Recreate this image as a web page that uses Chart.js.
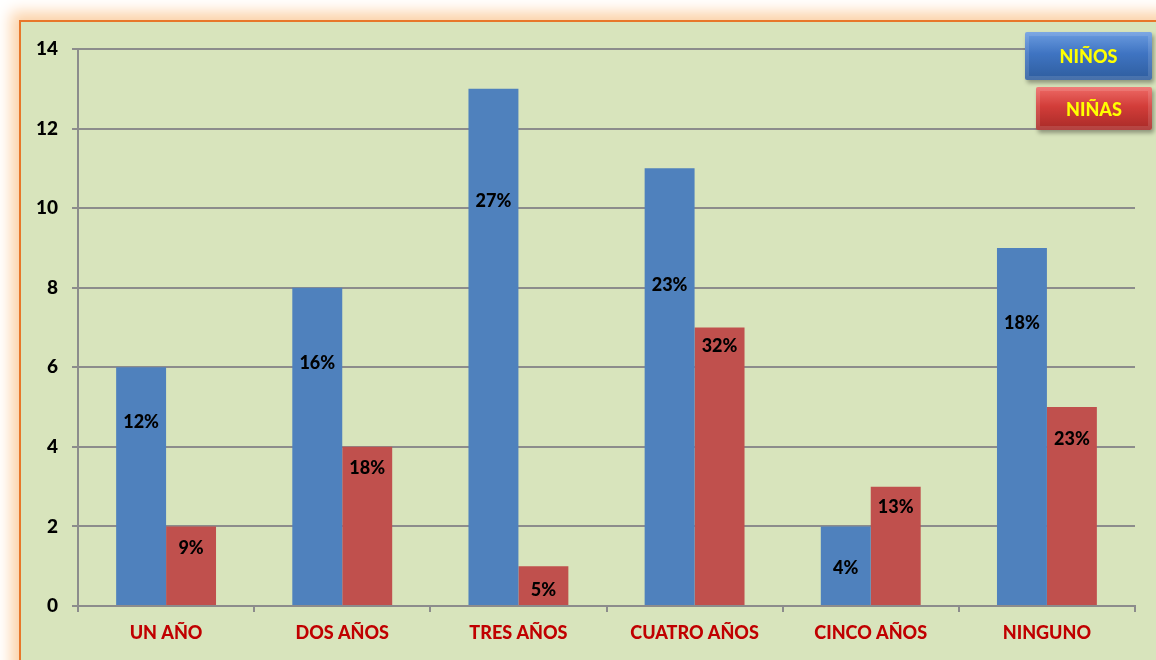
<!DOCTYPE html>
<html>
<head>
<meta charset="utf-8">
<script src="https://cdn.jsdelivr.net/npm/chart.js@4"></script>
<style>
  body { margin: 0; background: #fff; width: 1156px; height: 660px; overflow: hidden; position: relative; font-family: Lato, "Open Sans", sans-serif; }
  #frame {
    position: absolute; left: 19px; top: 20px; width: 1200px; height: 700px;
    background: #d8e4bc; border: 2px solid #e8772a;
    box-shadow: 0 0 14px 8px #fcd2a8;
  }
  #wrap { position: absolute; left: 0; top: 0; width: 1156px; height: 660px; }
  .leg {
    position: absolute; color: #ffff00; font-weight: 900; font-size: 18px;
    display: flex; align-items: center; justify-content: center;
    border-radius: 2px;
  }
  #legBlue {
    left: 1025px; top: 32px; width: 127px; height: 48px;
    background: linear-gradient(#6b9ce0, #3f74c2 45%, #2e5d9e);
    box-shadow: inset 0 0 0 4px rgba(255,255,255,0.12), 2px 3px 4px rgba(0,0,0,0.35);
  }
  #legRed {
    left: 1036px; top: 87px; width: 116px; height: 43px;
    background: linear-gradient(#ee6a66, #d23d39 45%, #a82a27);
    box-shadow: inset 0 0 0 4px rgba(255,255,255,0.12), 2px 3px 4px rgba(0,0,0,0.35);
  }
</style>
</head>
<body>
<div id="frame"></div>
<div id="wrap"><canvas id="myChart" width="1156" height="660"></canvas></div>
<div class="leg" id="legBlue">NIÑOS</div>
<div class="leg" id="legRed">NIÑAS</div>
<script>
const categories = ["UN AÑO", "DOS AÑOS", "TRES AÑOS", "CUATRO AÑOS", "CINCO AÑOS", "NINGUNO"];
const ninos = [6, 8, 13, 11, 2, 9];
const ninas = [2, 4, 1, 7, 3, 5];
const ninosPct = ["12%", "16%", "27%", "23%", "4%", "18%"];
const ninasPct = ["9%", "18%", "5%", "32%", "13%", "23%"];
// where each percentage label sits, in y-axis units
const ninosLabelAt = [4.62, 6.1, 10.18, 8.07, 0.95, 7.11];
const ninasLabelAt = [1.46, 3.47, 0.4, 6.53, 2.49, 4.2];
const yTicks = [0, 2, 4, 6, 8, 10, 12, 14];

const pctLabels = {
  id: "pctLabels",
  afterDatasetsDraw(chart) {
    const ctx = chart.ctx;
    const y = chart.scales.y;
    ctx.save();
    ctx.font = "900 18px Lato, 'Open Sans', sans-serif";
    ctx.fillStyle = "#000";
    ctx.textAlign = "center";
    ctx.textBaseline = "middle";
    [[ninosPct, ninosLabelAt], [ninasPct, ninasLabelAt]].forEach((pair, di) => {
      chart.getDatasetMeta(di).data.forEach((bar, i) => {
        ctx.fillText(pair[0][i], bar.x, y.getPixelForValue(pair[1][i]));
      });
    });
    ctx.restore();
  }
};

const ctx = document.getElementById("myChart").getContext("2d");
const myChart = new Chart(ctx, {
  type: "bar",
  data: {
    labels: categories,
    datasets: [
      { label: "NIÑOS", data: ninos, backgroundColor: "#4f81bd", barPercentage: 1, categoryPercentage: 0.567 },
      { label: "NIÑAS", data: ninas, backgroundColor: "#c0504d", barPercentage: 1, categoryPercentage: 0.567 },
    ],
  },
  options: {
    responsive: false,
    animation: false,
    layout: { padding: { top: 49, right: 21, left: 0, bottom: 0 } },
    plugins: { legend: { display: false }, tooltip: { enabled: false } },
    scales: {
      x: {
        afterFit: (s) => { s.height = 54; },
        grid: { drawOnChartArea: false, offset: true, tickLength: 6, color: "#8c8c8c", lineWidth: 2 },
        border: { color: "#8c8c8c", width: 2 },
        ticks: { color: "#c00000", font: { family: "Lato, 'Open Sans', sans-serif", weight: "900", size: 18 }, padding: 10, maxRotation: 0 },
      },
      y: {
        min: 0, max: 14,
        afterFit: (s) => { s.width = 78; },
        afterBuildTicks: (s) => { s.ticks = yTicks.map((v) => ({ value: v })); },
        grid: { color: "#8c8c8c", lineWidth: 2, tickLength: 6 },
        border: { color: "#8c8c8c", width: 2 },
        ticks: { color: "#000", font: { family: "Lato, 'Open Sans', sans-serif", weight: "900", size: 19 }, padding: 14 },
      },
    },
  },
  plugins: [pctLabels],
});
</script>
</body>
</html>
